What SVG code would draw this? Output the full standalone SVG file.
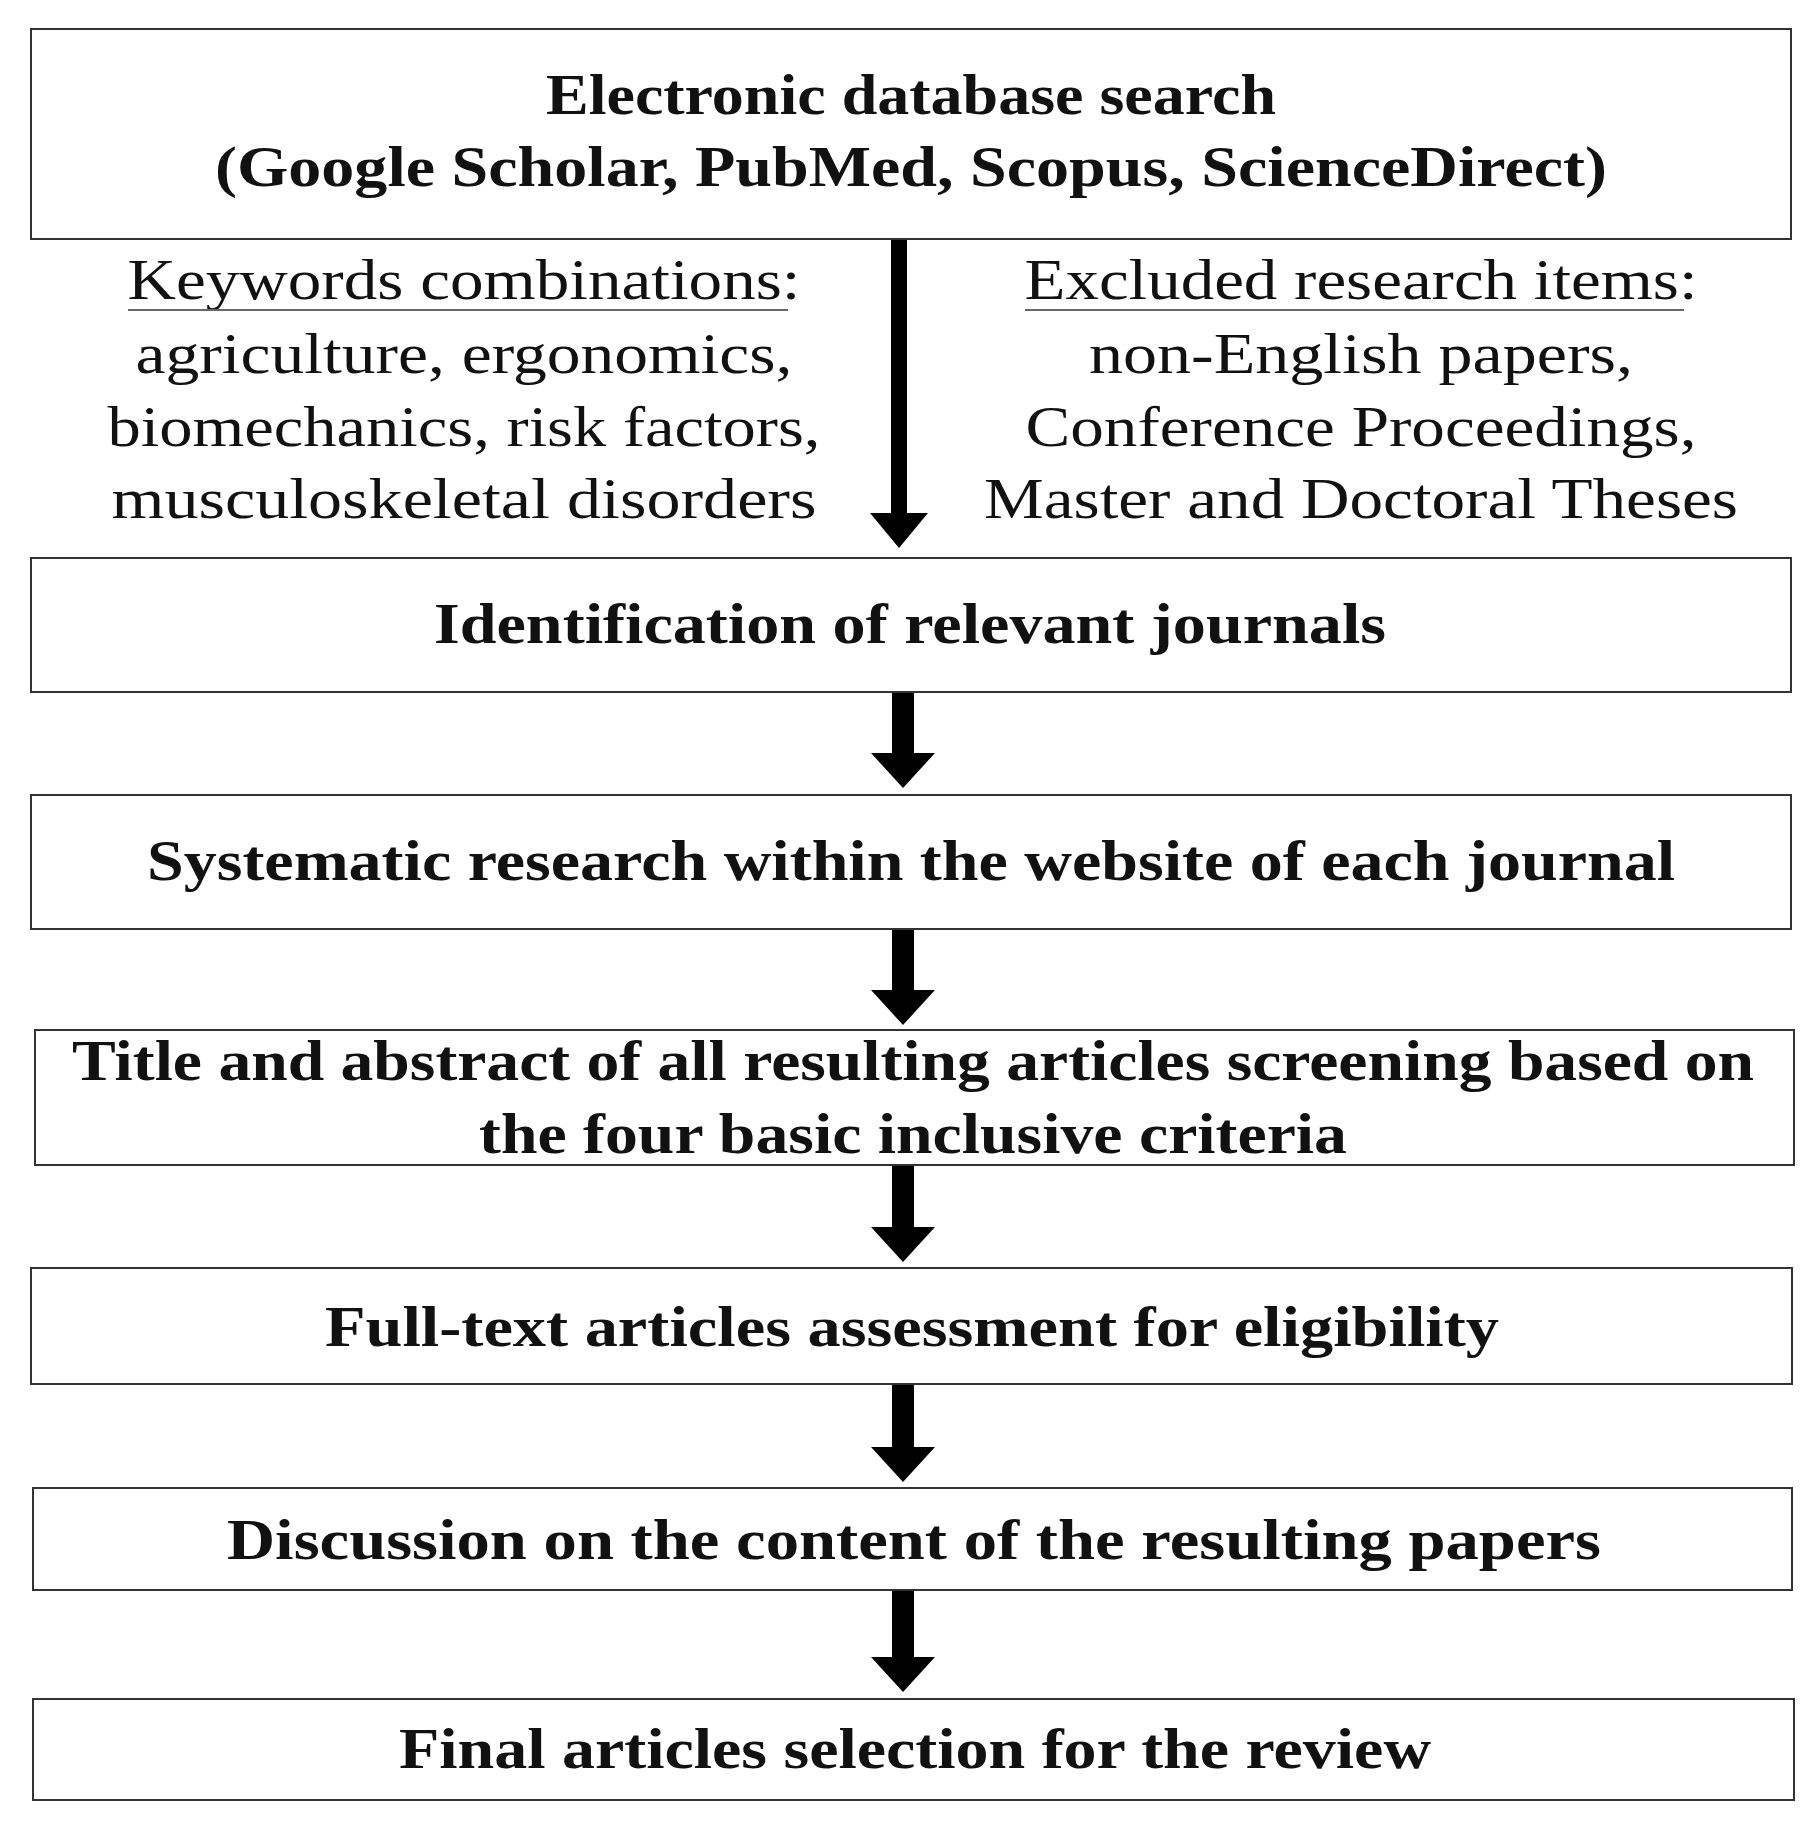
<svg xmlns="http://www.w3.org/2000/svg" width="1817" height="1825" viewBox="0 0 1817 1825">
<style>
.box{fill:#fff;stroke:#333;stroke-width:2}
text{font-family:"Liberation Serif","Times New Roman",serif;font-size:56px;fill:#111;text-anchor:middle}
.b{font-weight:bold}
.arr{fill:#000}
.ul{stroke:#666;stroke-width:2}
</style>
<rect width="1817" height="1825" fill="#fff"/>
<g id="connectors">
<polygon class="arr" points="891,239 907,239 907,513 928,513 899,548 870,513 891,513"/>
<polygon class="arr" points="892,692 914,692 914,753 935,753 903,788 871,753 892,753"/>
<polygon class="arr" points="892,929 914,929 914,990 935,990 903,1025 871,990 892,990"/>
<polygon class="arr" points="892,1165 914,1165 914,1227 935,1227 903,1262 871,1227 892,1227"/>
<polygon class="arr" points="892,1384 914,1384 914,1447 935,1447 903,1482 871,1447 892,1447"/>
<polygon class="arr" points="892,1590 914,1590 914,1657 935,1657 903,1692 871,1657 892,1657"/>
</g>
<g id="n1"><rect class="box" x="31" y="29" width="1760" height="210"/>
<text class="b" x="911" y="114" textLength="730" lengthAdjust="spacingAndGlyphs">Electronic database search</text>
<text class="b" x="911" y="186" textLength="1392" lengthAdjust="spacingAndGlyphs">(Google Scholar, PubMed, Scopus, ScienceDirect)</text></g>
<g id="keywords">
<text x="464" y="299" textLength="673" lengthAdjust="spacingAndGlyphs">Keywords combinations:</text>
<line class="ul" x1="128" y1="310" x2="788" y2="310"/>
<text x="464" y="373" textLength="657" lengthAdjust="spacingAndGlyphs">agriculture, ergonomics,</text>
<text x="464" y="446" textLength="713" lengthAdjust="spacingAndGlyphs">biomechanics, risk factors,</text>
<text x="464" y="518" textLength="705" lengthAdjust="spacingAndGlyphs">musculoskeletal disorders</text></g>
<g id="excluded">
<text x="1361" y="299" textLength="673" lengthAdjust="spacingAndGlyphs">Excluded research items:</text>
<line class="ul" x1="1025" y1="310" x2="1684" y2="310"/>
<text x="1361" y="373" textLength="544" lengthAdjust="spacingAndGlyphs">non-English papers,</text>
<text x="1361" y="446" textLength="671" lengthAdjust="spacingAndGlyphs">Conference Proceedings,</text>
<text x="1361" y="518" textLength="754" lengthAdjust="spacingAndGlyphs">Master and Doctoral Theses</text></g>
<g id="n2"><rect class="box" x="31" y="558" width="1760" height="134"/>
<text class="b" x="910" y="643" textLength="952" lengthAdjust="spacingAndGlyphs">Identification of relevant journals</text></g>
<g id="n3"><rect class="box" x="31" y="795" width="1760" height="134"/>
<text class="b" x="911" y="880" textLength="1528" lengthAdjust="spacingAndGlyphs">Systematic research within the website of each journal</text></g>
<g id="n4"><rect class="box" x="35" y="1030" width="1759" height="135"/>
<text class="b" x="913" y="1080" textLength="1682" lengthAdjust="spacingAndGlyphs">Title and abstract of all resulting articles screening based on</text>
<text class="b" x="913" y="1153" textLength="868" lengthAdjust="spacingAndGlyphs">the four basic inclusive criteria</text></g>
<g id="n5"><rect class="box" x="31" y="1268" width="1761" height="116"/>
<text class="b" x="912" y="1346" textLength="1174" lengthAdjust="spacingAndGlyphs">Full-text articles assessment for eligibility</text></g>
<g id="n6"><rect class="box" x="33" y="1488" width="1759" height="102"/>
<text class="b" x="914" y="1559" textLength="1374" lengthAdjust="spacingAndGlyphs">Discussion on the content of the resulting papers</text></g>
<g id="n7"><rect class="box" x="33" y="1699" width="1761" height="101"/>
<text class="b" x="915" y="1768" textLength="1032" lengthAdjust="spacingAndGlyphs">Final articles selection for the review</text></g>
</svg>
